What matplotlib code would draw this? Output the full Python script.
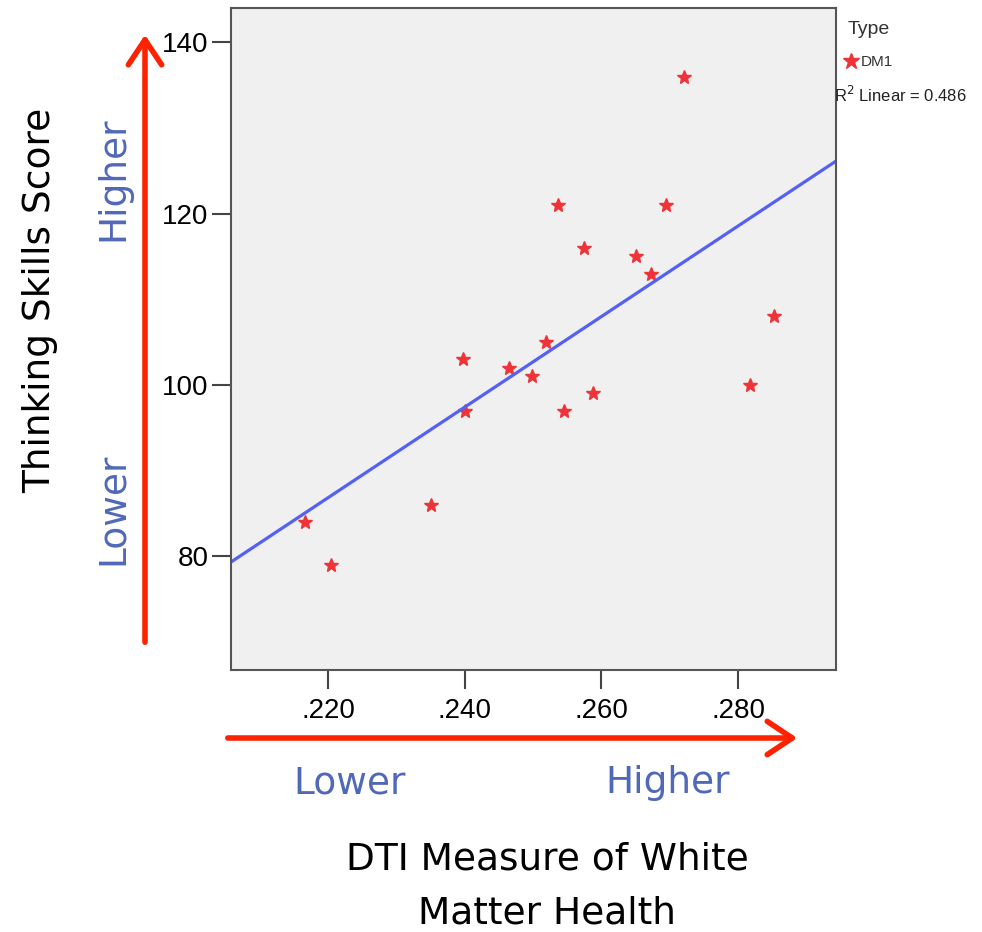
import matplotlib.pyplot as plt
from matplotlib.patches import FancyArrowPatch
from matplotlib.lines import Line2D
import numpy as np

# DTI measure (x) vs thinking skills score (y), DM1 group
dti = [0.2721, 0.2536, 0.2695, 0.2574, 0.2650, 0.2672, 0.2853, 0.2398, 0.2519,
       0.2465, 0.2499, 0.2401, 0.2545, 0.2588, 0.2817, 0.2350, 0.2167, 0.2204]
score = [136, 121, 121, 116, 115, 113, 108, 103, 105,
         102, 101, 97, 97, 99, 100, 86, 84, 79]
xticks = [0.220, 0.240, 0.260, 0.280]
xticklabels = ['.220', '.240', '.260', '.280']
yticks = [80, 100, 120, 140]
r2_label = 0.486   # as printed in the legend

RED = '#FF2200'
BLUE_TXT = '#5068B8'
STAR = '#EE3438'
FIT = '#5560F5'

fig = plt.figure(figsize=(9.82, 9.32), dpi=100)
ax = fig.add_axes([0.2352, 0.2811, 0.6161, 0.7103])
ax.set_facecolor('#F0F0F0')

x = np.array(dti)
y = np.array(score)
ax.plot(x, y, linestyle='none', marker='*', ms=10, color=STAR, mec=STAR)

# linear fit
slope, icpt = np.polyfit(x, y, 1)
xl = np.array([0.2058, 0.2943])
ax.plot(xl, slope * xl + icpt, color=FIT, lw=2.3)

ax.set_xlim(0.2058, 0.2943)
ax.set_ylim(66.7, 144)
ax.set_xticks(xticks)
ax.set_xticklabels(xticklabels)
ax.set_yticks(yticks)
ax.tick_params(labelsize=20, length=14, width=1.5, color='#444444')
ax.tick_params(axis='y', pad=2)
ax.tick_params(axis='x', pad=6)
for lab in ax.get_xticklabels() + ax.get_yticklabels():
    lab.set_family('Liberation Sans')
for s in ax.spines.values():
    s.set_color('#555555')
    s.set_linewidth(1.5)

# legend text outside plot
fig.text(848 / 982, 1 - 30 / 932, 'Type', fontsize=14, family='Liberation Sans',
         color='#333333', va='center')
fig.add_artist(Line2D([851 / 982], [1 - 61 / 932], marker='*', ms=12, color=STAR,
                      transform=fig.transFigure))
fig.text(861 / 982, 1 - 62 / 932, 'DM1', fontsize=11, family='Liberation Sans',
         color='#333333', va='center')
fig.text(834 / 982, 1 - 95 / 932, 'R$^2$ Linear = %.3f' % r2_label, fontsize=12,
         family='Liberation Sans', color='#222222', va='center')

# axis labels and direction arrows
big = dict(family='DejaVu Sans', fontsize=27)
fig.text(40 / 982, 1 - 300 / 932, 'Thinking Skills Score', rotation=90,
         ha='center', va='center', color='black', **big)
fig.text(113 / 982, 1 - 179 / 932, 'Higher', rotation=90, ha='center', va='center',
         color=BLUE_TXT, **big)
fig.text(113 / 982, 1 - 509 / 932, 'Lower', rotation=90, ha='center', va='center',
         color=BLUE_TXT, **big)
fig.text(350 / 982, 1 - 783 / 932, 'Lower', ha='center', va='center',
         color=BLUE_TXT, **big)
fig.text(668 / 982, 1 - 783 / 932, 'Higher', ha='center', va='center',
         color=BLUE_TXT, **big)
fig.text(547 / 982, 1 - 860 / 932, 'DTI Measure of White',
         ha='center', va='center', color='black', **big)
fig.text(547 / 982, 1 - 914 / 932, 'Matter Health',
         ha='center', va='center', color='black', **big)

va = FancyArrowPatch((145 / 982, 1 - 645 / 932), (145 / 982, 1 - 32 / 932),
                     transform=fig.transFigure, arrowstyle='->,head_length=6,head_width=4',
                     color=RED, lw=4, mutation_scale=3)
ha_ = FancyArrowPatch((225 / 982, 1 - 738 / 932), (800 / 982, 1 - 738 / 932),
                      transform=fig.transFigure, arrowstyle='->,head_length=6,head_width=4',
                      color=RED, lw=4, mutation_scale=3)
fig.add_artist(va)
fig.add_artist(ha_)

fig.savefig('out.png', dpi=100)
